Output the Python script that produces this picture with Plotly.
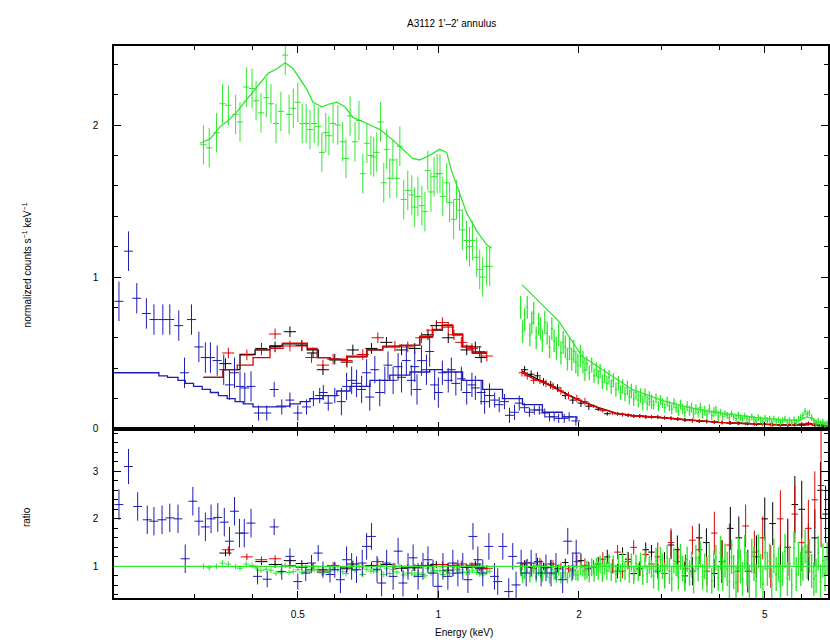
import math
import plotly.graph_objects as go

# ---------------- data ----------------
C_BLACK, C_RED, C_GREEN, C_BLUE = "#000000", "#e00000", "#2ee82e", "#1c1cb4"

# ---- green: low-energy part ----
g_lo_E = [0.314,0.323,0.335,0.345,0.355,0.368,0.376,0.388,0.399,0.407,
          0.417,0.428,0.438,0.449,0.460,0.470,0.479,0.489,0.500,0.511,
          0.521,0.531,0.542,0.553,0.563,0.574,0.583,0.595,0.609,0.624,
          0.634,0.647,0.663,0.676,0.689,0.703,0.717,0.727,0.738,0.752,
          0.764,0.775,0.787,0.799,0.815,0.827,0.843,0.860,0.877,0.890,
          0.904,0.922,0.936,0.949,0.964,0.979,0.994,1.008,1.022,1.042,
          1.057,1.078,1.094,1.110,1.126,1.149,1.166,1.183,1.208,1.226,
          1.244,1.269,1.288]
g_lo_val = [1.87,1.85,1.95,2.14,2.13,2.07,2.02,2.25,2.24,2.16,
            2.08,2.18,2.14,2.01,2.09,2.46,2.07,2.11,2.15,2.01,
            2.01,1.97,2.01,1.99,1.82,1.95,1.93,2.01,2.00,1.89,
            1.78,2.06,1.89,2.03,1.68,1.88,1.80,1.79,1.82,2.02,
            1.62,1.84,1.65,1.77,1.65,1.86,1.51,1.57,1.54,1.46,
            1.53,1.47,1.43,1.70,1.56,1.66,1.68,1.68,1.53,1.62,
            1.49,1.38,1.51,1.44,1.31,1.24,1.20,1.24,1.13,1.05,
            1.00,1.07,1.07]
g_lo_err = 0.13
g_lo_ratio = [1.00,0.97,1.00,1.07,1.05,0.99,0.96,1.05,1.02,0.97,
              0.92,0.94,0.92,0.86,0.88,1.02,0.87,0.89,0.93,0.88,
              0.90,0.90,0.93,0.94,0.86,0.92,0.90,0.94,0.93,0.89,
              0.85,0.99,0.92,0.99,0.83,0.94,0.90,0.90,0.92,1.02,
              0.83,0.95,0.85,0.93,0.88,1.00,0.82,0.86,0.86,0.82,
              0.86,0.83,0.80,0.95,0.86,0.91,0.91,0.91,0.83,0.89,
              0.86,0.85,0.94,0.93,0.88,0.87,0.88,0.92,0.87,0.84,
              0.82,0.88,0.90]
g_lo_ratio_err = 0.06
g_lo_model_E = [0.309,0.325,0.333,0.341,0.355,0.371,0.382,0.399,0.415,0.432,
                0.451,0.470,0.489,0.507,0.524,0.539,0.563,0.586,0.606,0.631,
                0.656,0.703,0.750,0.800,0.839,0.881,0.912,0.958,1.006,1.042,
                1.067,1.110,1.150,1.210,1.270,1.300]
g_lo_model = [1.88,1.91,1.95,1.99,2.03,2.09,2.14,2.21,2.28,2.34,
              2.37,2.41,2.37,2.30,2.23,2.15,2.12,2.14,2.15,2.12,
              2.05,2.01,1.97,1.90,1.84,1.78,1.77,1.80,1.84,1.82,
              1.70,1.55,1.42,1.30,1.21,1.19]

# ---- green: high-energy part ----
g_hi_E = [1.50,1.515,1.53,1.55,1.57,1.585,1.60,1.62,1.64,1.655,
          1.67,1.69,1.71,1.73,1.75,1.77,1.79,1.81,1.83,1.85,
          1.87,1.89,1.91,1.93,1.95,1.97,1.99,2.015,2.04,2.06,
          2.08,2.105,2.13,2.155,2.18,2.20,2.22,2.245,2.27,2.295,
          2.32,2.345,2.37,2.40,2.43,2.455,2.48,2.51,2.54,2.565,
          2.59,2.62,2.65,2.68,2.71,2.74,2.77,2.80,2.83,2.86,
          2.89,2.925,2.96,2.99,3.02,3.055,3.09,3.125,3.16,3.195,
          3.23,3.265,3.30,3.335,3.37,3.41,3.45,3.485,3.52,3.56,
          3.60,3.64,3.68,3.72,3.76,3.805,3.85,3.89,3.93,3.975,
          4.02,4.065,4.11,4.155,4.20,4.245,4.29,4.34,4.39,4.435,
          4.48,4.53,4.58,4.635,4.69,4.74,4.79,4.845,4.90,4.955,
          5.01,5.065,5.12,5.175,5.23,5.29,5.35,5.405,5.46,5.525,
          5.59,5.65,5.71,5.775,5.84,5.905,5.97,6.035,6.10,6.165,
          6.23,6.30,6.37,6.44,6.51,6.585,6.66,6.73,6.80]
g_hi_val = [0.80,0.64,0.72,0.80,0.62,0.70,0.76,0.60,0.69,0.66,
            0.58,0.70,0.63,0.54,0.66,0.58,0.53,0.62,0.50,0.57,
            0.54,0.46,0.53,0.46,0.51,0.44,0.42,0.48,0.44,0.39,
            0.43,0.37,0.42,0.35,0.39,0.34,0.38,0.31,0.35,0.30,
            0.34,0.28,0.32,0.26,0.30,0.24,0.28,0.23,0.27,0.21,
            0.25,0.20,0.24,0.19,0.22,0.17,0.22,0.17,0.20,0.18,
            0.16,0.20,0.15,0.19,0.17,0.14,0.18,0.15,0.13,0.17,
            0.14,0.12,0.16,0.13,0.11,0.15,0.12,0.14,0.10,0.13,
            0.11,0.14,0.10,0.12,0.095,0.13,0.09,0.11,0.12,0.085,
            0.11,0.08,0.10,0.09,0.075,0.10,0.08,0.07,0.09,0.075,
            0.065,0.085,0.07,0.06,0.08,0.065,0.055,0.075,0.06,0.05,
            0.07,0.055,0.065,0.045,0.065,0.05,0.06,0.045,0.055,0.065,
            0.045,0.055,0.04,0.06,0.045,0.065,0.075,0.09,0.115,0.10,
            0.105,0.075,0.05,0.04,0.05,0.035,0.045,0.03,0.035]
g_hi_err = [0.075]*30 + [0.048]*30 + [0.033]*30 + [0.022]*49
g_hi_ratio = [0.95,0.76,0.86,0.98,0.78,0.90,0.96,0.78,0.92,0.88,
              0.80,0.95,0.88,0.76,0.93,0.84,0.78,0.93,0.76,0.87,
              0.86,0.76,0.89,0.80,0.91,0.83,0.81,0.94,0.90,0.83,
              0.93,0.85,0.98,0.87,0.99,0.91,1.04,0.86,1.02,0.91,
              1.07,0.88,1.04,0.84,1.06,0.86,1.10,0.90,1.12,0.84,
              1.08,0.82,1.06,0.88,1.10,0.80,1.14,0.84,1.04,0.95,
              0.80,1.12,0.76,1.14,1.00,0.80,1.18,0.90,0.74,1.12,
              1.06,0.78,1.20,0.95,0.74,1.15,0.86,1.04,0.70,1.18,
              0.95,1.25,0.78,1.00,0.72,1.22,0.70,1.06,1.18,0.76,
              1.28,0.84,1.12,0.95,0.68,1.20,0.88,0.66,1.25,1.00,
              0.74,1.30,0.95,0.68,1.22,1.05,0.70,1.32,0.90,0.63,
              1.28,0.95,1.12,0.60,1.22,0.84,1.04,0.68,0.95,1.32,
              0.74,1.06,0.60,1.38,0.84,1.16,0.95,1.06,1.42,1.10,
              1.22,0.90,0.74,0.80,1.28,0.68,1.12,0.84,1.16]
g_hi_ratio_err = [0.12]*30 + [0.19]*30 + [0.27]*30 + [0.36]*49
g_hi_model_E = [1.51,1.65,1.81,2.03,2.29,2.60,3.00,3.33,3.80,4.26,4.80,5.44,5.90,6.15,6.30,6.50,6.85]
g_hi_model = [0.95,0.83,0.71,0.48,0.37,0.26,0.19,0.15,0.115,0.095,0.075,0.06,0.055,0.08,0.07,0.045,0.035]

# ---- black ----
k_lo_E = [0.350,0.418,0.447,0.481,0.510,0.539,0.566,0.600,0.637,0.656,
          0.719,0.774,0.834,0.890,0.950,0.990,1.050,1.150,1.200,1.235]
k_lo_val = [0.43,0.53,0.54,0.64,0.55,0.50,0.39,0.46,0.44,0.52,
            0.53,0.57,0.52,0.53,0.62,0.68,0.60,0.52,0.54,0.47]
k_lo_ratio = [1.28,1.10,1.04,1.12,1.06,1.00,0.88,1.00,0.95,1.05,
              1.02,1.04,0.96,0.97,1.02,1.04,0.92,0.98,1.05,0.95]
k_hi_E = [1.53,1.58,1.63,1.68,1.74,1.80,1.87,1.94,2.02,2.10,2.20,2.30,
          2.42,2.48,2.55,2.62,2.70,2.78,2.86,2.95,
          3.05,3.15,3.25,3.37,3.50,3.62,3.75,3.90,
          4.05,4.22,4.40,4.60,4.80,5.00,5.20,5.40,
          5.60,5.80,6.00,6.20,6.40,6.58,6.75]
k_hi_val = [0.39,0.36,0.35,0.31,0.29,0.27,0.22,0.19,0.17,0.15,0.13,0.10,
            0.10,0.095,0.09,0.085,0.085,0.08,0.08,0.078,
            0.075,0.07,0.065,0.06,0.055,0.052,0.05,0.046,
            0.042,0.04,0.038,0.035,0.032,0.03,0.028,0.026,
            0.025,0.027,0.03,0.035,0.025,0.02,0.018]
k_hi_ratio = [1.05,0.98,1.10,1.00,1.05,0.95,1.08,0.92,1.12,0.95,1.05,1.20,
              0.90,1.25,1.15,0.85,0.95,1.35,1.30,0.90,
              1.00,1.45,1.35,0.80,0.90,1.60,1.50,0.85,
              1.10,1.80,1.60,0.90,1.20,2.00,1.90,1.00,
              1.40,2.30,2.20,1.30,1.60,2.60,2.10]
k_hi_err = [0.025]*10 + [0.012]*33
k_hi_ratio_err = [0.08]*8 + [0.15]*12 + [0.3]*8 + [0.45]*8 + [0.6]*7
k_lo_model_E = [0.314,0.346,0.376,0.405,0.436,0.463,0.524,0.553,0.586,0.637,
                0.703,0.760,0.827,0.912,0.972,1.020,1.073,1.127,1.184,1.270]
k_lo_model = [0.34,0.39,0.49,0.52,0.546,0.56,0.52,0.47,0.455,0.475,
              0.52,0.54,0.55,0.605,0.65,0.68,0.62,0.54,0.50,0.50]
k_hi_model_E = [1.51,1.6,1.7,1.8,1.9,2.0,2.2,2.4,2.6,2.8,3.0,3.5,4.0,4.5,5.0,5.5,6.0,6.3,6.5,6.85]
k_hi_model = [0.38,0.34,0.30,0.26,0.22,0.19,0.14,0.105,0.09,0.082,0.076,0.058,0.044,0.036,0.03,0.026,0.024,0.032,0.024,0.018]

# ---- red ----
r_lo_E = [0.355,0.389,0.418,0.447,0.481,0.510,0.535,0.566,0.595,0.636,
          0.689,0.742,0.807,0.860,0.920,0.970,1.020,1.050,1.080,1.120,
          1.180,1.225,1.270]
r_lo_val = [0.50,0.487,0.52,0.625,0.546,0.546,0.47,0.42,0.46,0.45,
            0.49,0.60,0.545,0.54,0.60,0.65,0.70,0.67,0.62,0.57,
            0.53,0.51,0.48]
r_lo_ratio = [1.35,1.20,1.14,1.16,1.02,0.98,0.93,0.92,1.02,0.97,
              1.00,1.10,1.00,0.98,1.02,1.00,1.04,1.00,1.02,1.05,
              1.02,0.98,0.96]
r_hi_E = [1.51,1.55,1.60,1.65,1.70,1.76,1.83,1.90,1.98,2.06,2.15,2.25,
          2.36,2.42,2.48,2.55,2.62,2.70,2.78,2.86,
          2.95,3.05,3.15,3.26,3.38,3.50,3.62,3.76,
          3.90,4.05,4.20,4.38,4.55,4.75,4.95,5.15,
          5.40,5.60,5.80,6.00,6.20,6.40,6.60]
r_hi_val = [0.37,0.35,0.32,0.32,0.30,0.28,0.25,0.22,0.20,0.18,0.15,0.12,
            0.105,0.10,0.095,0.09,0.085,0.083,0.08,0.079,
            0.078,0.074,0.07,0.065,0.06,0.056,0.052,0.049,
            0.046,0.043,0.04,0.037,0.035,0.032,0.03,0.028,
            0.027,0.028,0.03,0.034,0.038,0.032,0.03]
r_hi_ratio = [1.00,1.08,0.95,1.10,0.98,1.05,1.00,0.95,1.10,1.02,0.98,1.15,
              1.00,1.30,0.90,1.10,1.40,0.95,1.25,1.05,
              1.20,0.85,1.50,1.10,0.95,1.55,1.35,0.90,
              1.70,1.10,1.45,0.90,1.85,1.30,1.60,1.00,
              2.00,1.40,2.10,1.50,1.80,2.40,2.70]
r_hi_err = [0.025]*10 + [0.012]*33
r_hi_ratio_err = [0.08]*8 + [0.15]*12 + [0.3]*8 + [0.45]*8 + [0.6]*6 + [1.3]
r_lo_model_E = [0.314,0.346,0.371,0.401,0.436,0.465,0.524,0.550,0.586,0.637,
                0.703,0.760,0.827,0.912,0.972,1.020,1.073,1.127,1.184,1.270]
r_lo_model = [0.34,0.39,0.42,0.47,0.53,0.565,0.53,0.47,0.46,0.48,
              0.52,0.545,0.55,0.61,0.655,0.685,0.625,0.545,0.50,0.50]
r_hi_model_E = [1.51,1.6,1.7,1.8,1.9,2.0,2.2,2.4,2.6,2.8,3.0,3.5,4.0,4.5,5.0,5.5,6.0,6.3,6.5,6.85]
r_hi_model = [0.37,0.33,0.30,0.26,0.22,0.19,0.14,0.105,0.09,0.082,0.076,0.058,0.044,0.036,0.03,0.026,0.024,0.032,0.024,0.018]
kr_lo_err, kr_lo_ratio_err = 0.035, 0.07

# ---- blue ----
b_E = [0.207,0.217,0.226,0.237,0.246,0.257,0.266,0.278,0.286,0.296,
       0.307,0.317,0.325,0.336,0.347,0.357,0.366,0.376,0.385,0.397,
       0.412,0.429,0.445,0.462,0.481,0.500,0.522,0.540,0.557,0.567,0.581,0.600,
       0.620,0.636,0.652,0.668,0.685,0.702,0.713,0.731,0.749,0.768,0.780,0.800,0.820,
       0.834,0.854,0.875,0.890,0.900,0.920,0.943,0.958,0.982,1.000,
       1.020,1.050,1.066,1.090,1.120,1.150,1.180,1.200,1.235,1.256,1.287,
       1.320,1.350,1.386,1.420,1.456,1.490,1.530,1.567,1.605,1.645,1.690,1.730,1.770,1.810,1.860,1.906,1.970]
b_val = [0.84,1.17,0.86,0.76,0.72,0.72,0.72,0.68,0.37,0.72,
         0.54,0.47,0.47,0.45,0.39,0.29,0.37,0.28,0.27,0.28,
         0.105,0.105,0.26,0.145,0.19,0.105,0.145,0.20,0.22,0.24,0.17,0.22,
         0.18,0.28,0.32,0.30,0.26,0.37,0.21,0.39,0.24,0.32,0.42,0.32,0.41,
         0.34,0.45,0.32,0.41,0.26,0.45,0.39,0.51,0.29,0.24,
         0.37,0.32,0.39,0.30,0.33,0.24,0.29,0.27,0.24,0.18,0.22,
         0.19,0.16,0.18,0.09,0.11,0.17,0.14,0.11,0.125,0.125,0.105,0.08,0.08,0.07,0.07,0.08,0.053]
b_err = [0.13,0.13] + [0.10]*18 + [0.05]*12 + [0.09]*13 + [0.10]*10 + [0.08]*11 + [0.05]*6 + [0.03]*11
b_ratio_E = [0.207,0.217,0.227,0.238,0.246,0.256,0.266,0.277,0.287,0.298,
             0.307,0.317,0.326,0.337,0.348,0.357,0.366,0.375,0.384,0.397,
             0.410,0.430,0.445,0.462,0.481,0.500,0.520,0.535,0.553,0.566,
             0.586,0.600,0.617,0.636,0.652,0.668,0.687,0.702,0.719,0.739,
             0.756,0.775,0.800,0.820,0.840,0.861,0.883,0.905,0.927,0.950,
             0.974,0.998,1.023,1.048,1.074,1.101,1.128,1.157,1.186,1.215,
             1.245,1.283,1.319,1.340,1.374,1.415,1.443,1.467,1.504,1.542,
             1.580,1.620,1.660,1.700,1.743,1.786,1.846,1.893,1.940,1.973]
b_ratio = [2.30,3.10,2.26,1.98,1.95,1.98,2.02,2.00,1.16,2.37,
           1.95,1.83,2.00,2.03,1.93,1.53,2.16,1.70,1.70,1.91,
           0.79,0.73,1.83,0.89,1.21,0.68,0.86,1.07,1.28,0.93,
           0.83,0.93,0.72,1.14,1.00,0.93,1.07,1.42,1.63,0.94,
           0.65,1.07,0.79,1.32,0.65,1.00,1.18,0.79,1.00,1.14,
           0.86,0.58,1.00,0.79,1.07,0.86,1.00,0.72,1.63,1.14,
           0.86,1.42,0.79,0.68,1.42,0.47,1.21,0.61,1.07,0.86,
           1.07,1.00,0.86,0.97,0.86,1.00,0.72,1.53,1.00,1.28]
b_ratio_err = [0.32,0.37] + [0.30]*18 + [0.17]*12 + [0.28]*48
b_model_E = [0.200,0.252,0.263,0.277,0.287,0.299,0.312,0.325,0.338,0.353,
             0.367,0.382,0.401,0.451,0.481,0.506,0.531,0.566,0.606,0.647,
             0.714,0.787,0.869,0.958,1.020,1.127,1.244,1.372,1.514,1.670,
             1.842,1.980]
b_model = [0.37,0.35,0.34,0.32,0.30,0.28,0.26,0.24,0.22,0.20,
           0.18,0.165,0.145,0.15,0.165,0.18,0.20,0.22,0.25,0.28,
           0.32,0.355,0.375,0.39,0.375,0.32,0.26,0.20,0.16,0.11,
           0.08,0.06]

# axis settings
E_RANGE = [0.202, 6.83]
Y_TOP = [0.0, 2.52]
Y_RATIO = [0.335, 3.89]
X_MAJOR = [0.5, 1, 2, 5]
X_MAJOR_TEXT = ["0.5", "1", "2", "5"]
X_MINOR = [0.3, 0.4, 0.6, 0.7, 0.8, 0.9, 3, 4, 6]

# horizontal half-widths of the bins as a fraction of energy (style)
XFRAC = {"g_lo": 0.015, "g_hi": 0.005, "k_lo": 0.03, "k_hi": 0.016, "b": 0.022}

# ---------------- figure ----------------
fig = go.Figure()

def xerr(E, frac):
    return [e * frac for e in E]

def data_trace(E, y, yerr, frac, color, top=True, thick=1):
    if not isinstance(yerr, list):
        yerr = [yerr] * len(E)
    fig.add_trace(go.Scatter(
        x=E, y=y, mode="markers",
        marker=dict(size=1, color=color),
        error_y=dict(type="data", array=yerr, width=0, thickness=thick, color=color),
        error_x=dict(type="data", array=xerr(E, frac), width=0, thickness=thick, color=color),
        xaxis="x2" if top else "x", yaxis="y2" if top else "y",
        showlegend=False, hoverinfo="skip"))

def model_trace(E, y, color, shape="hv"):
    fig.add_trace(go.Scatter(
        x=E, y=y, mode="lines", line=dict(color=color, width=1.3, shape=shape),
        xaxis="x2", yaxis="y2", showlegend=False, hoverinfo="skip"))

# upper panel: black, red, green, blue
data_trace(k_lo_E, k_lo_val, kr_lo_err, XFRAC["k_lo"], C_BLACK)
data_trace(k_hi_E, k_hi_val, k_hi_err, XFRAC["k_hi"], C_BLACK)
model_trace(k_lo_model_E, k_lo_model, C_BLACK)
model_trace(k_hi_model_E, k_hi_model, C_BLACK, "linear")
data_trace(r_lo_E, r_lo_val, kr_lo_err, XFRAC["k_lo"], C_RED)
data_trace(r_hi_E, r_hi_val, r_hi_err, XFRAC["k_hi"], C_RED)
model_trace(r_lo_model_E, r_lo_model, C_RED)
model_trace(r_hi_model_E, r_hi_model, C_RED, "linear")
data_trace(g_lo_E, g_lo_val, g_lo_err, XFRAC["g_lo"], C_GREEN)
data_trace(g_hi_E, g_hi_val, g_hi_err, XFRAC["g_hi"], C_GREEN, thick=1.3)
model_trace(g_lo_model_E, g_lo_model, C_GREEN, "linear")
model_trace(g_hi_model_E, g_hi_model, C_GREEN, "linear")
data_trace(b_E, b_val, b_err, XFRAC["b"], C_BLUE)
model_trace(b_model_E, b_model, C_BLUE)

# lower panel: ratios
data_trace(k_lo_E, k_lo_ratio, kr_lo_ratio_err, XFRAC["k_lo"], C_BLACK, top=False)
data_trace(k_hi_E, k_hi_ratio, k_hi_ratio_err, XFRAC["k_hi"], C_BLACK, top=False)
data_trace(r_lo_E, r_lo_ratio, kr_lo_ratio_err, XFRAC["k_lo"], C_RED, top=False)
data_trace(r_hi_E, r_hi_ratio, r_hi_ratio_err, XFRAC["k_hi"], C_RED, top=False)
data_trace(g_lo_E, g_lo_ratio, g_lo_ratio_err, XFRAC["g_lo"], C_GREEN, top=False)
data_trace(g_hi_E, g_hi_ratio, g_hi_ratio_err, XFRAC["g_hi"], C_GREEN, top=False, thick=1.4)
data_trace(b_ratio_E, b_ratio, b_ratio_err, XFRAC["b"], C_BLUE, top=False)

# unity line in the ratio panel
fig.add_shape(type="line", xref="x domain", yref="y", x0=0, x1=1, y0=1, y1=1,
              line=dict(color=C_GREEN, width=1.4))

FONT = dict(family="Liberation Sans, Arial, sans-serif", size=10, color="black")
LOG_RANGE = [math.log10(E_RANGE[0]), math.log10(E_RANGE[1])]
SPLIT = 0.3062

xcommon = dict(type="log", range=LOG_RANGE, tickvals=X_MAJOR, ticktext=X_MAJOR_TEXT,
               ticks="inside", ticklen=7, tickwidth=1, tickcolor="black",
               showline=True, linecolor="black", linewidth=1.5,
               mirror="allticks", showgrid=False, zeroline=False, tickfont=FONT,
               minor=dict(tickvals=X_MINOR, ticks="inside", ticklen=4, tickcolor="black", showgrid=False))
ycommon = dict(ticks="inside", ticklen=7, tickcolor="black", showline=True, linecolor="black",
               linewidth=1.5, mirror="allticks", showgrid=False, zeroline=False, tickfont=FONT,
               ticklabelstandoff=12,
               minor=dict(dtick=0.2, ticks="inside", ticklen=4, tickcolor="black", showgrid=False))
fig.update_layout(
    width=830, height=644,
    margin=dict(l=114, r=0, t=46, b=46),
    paper_bgcolor="white", plot_bgcolor="white",
    font=FONT,
    xaxis=dict(**xcommon, domain=[0, 1], anchor="y", ticklabelstandoff=6),
    xaxis2=dict(**xcommon, domain=[0, 1], anchor="y2", matches="x", showticklabels=False),
    yaxis=dict(**ycommon, domain=[0, SPLIT], range=Y_RATIO, tickvals=[1, 2, 3]),
    yaxis2=dict(**ycommon, domain=[SPLIT, 1], range=Y_TOP, tickvals=[0, 1, 2]),
    annotations=[
        dict(text="A3112 1'\u20132' annulus", xref="paper", yref="paper", x=0.472, y=1.04,
             showarrow=False, font=FONT, xanchor="center", yanchor="middle"),
        dict(text="normalized counts s<sup>\u22121</sup> keV<sup>\u22121</sup>", xref="paper", yref="paper",
             x=-0.1215, y=0.603, textangle=-90, showarrow=False, font=FONT,
             xanchor="center", yanchor="middle"),
        dict(text="ratio", xref="paper", yref="paper", x=-0.1215, y=0.147, textangle=-90,
             showarrow=False, font=FONT, xanchor="center", yanchor="middle"),
        dict(text="Energy (keV)", xref="paper", yref="paper", x=0.49, y=-0.0616,
             showarrow=False, font=FONT, xanchor="center", yanchor="middle"),
    ],
)

fig.write_html("out.html")
